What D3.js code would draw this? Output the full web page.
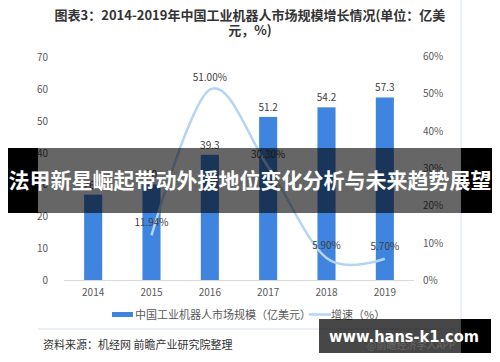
<!DOCTYPE html>
<html>
<head>
<meta charset="utf-8">
<script src="https://cdn.jsdelivr.net/npm/d3@7"></script>
<style>
  body { margin: 0; background: #fff; }
  svg { display: block; font-family: "Noto Sans CJK SC", "Microsoft YaHei", sans-serif; }
</style>
</head>
<body>
<svg id="chart" width="500" height="362"></svg>
<script>
var years = ["2014", "2015", "2016", "2017", "2018", "2019"];
var market_size = [26.8, 30, 39.3, 51.2, 54.2, 57.3];
var growth_years = ["2015", "2016", "2017", "2018", "2019"];
var growth_rate = [11.94, 51.00, 30.30, 5.90, 5.70];
var growth_labels = ["11.94%", "51.00%", "30.30%", "5.90%", "5.70%"];
var left_ticks = [0, 10, 20, 30, 40, 50, 60, 70];
var right_ticks = [0, 10, 20, 30, 40, 50, 60];

var svg = d3.select('#chart');

var x = d3.scaleBand().domain(years).range([64, 414]).paddingInner(0.69).paddingOuter(0.345);
var y = d3.scaleLinear().domain([0, 70]).range([280, 57]);
var y2 = d3.scaleLinear().domain([0, 60]).range([280, 56]);

// panel borders
svg.append('line').attr('x1', 461).attr('x2', 461).attr('y1', 0).attr('y2', 330)
  .attr('stroke', '#e6edf5').attr('stroke-width', 1.5);
svg.append('line').attr('x1', 38).attr('x2', 461).attr('y1', 329).attr('y2', 329)
  .attr('stroke', '#e6edf5').attr('stroke-width', 1.5);

// title
var title = svg.append('text').attr('text-anchor', 'middle').attr('font-weight', 'bold')
  .attr('font-size', 13).attr('fill', '#333');
title.append('tspan').attr('x', 250).attr('y', 20).text('图表3：2014-2019年中国工业机器人市场规模增长情况(单位：亿美');
title.append('tspan').attr('x', 250).attr('y', 35).text('元，%)');

// axes
svg.append('g').selectAll('text').data(left_ticks).enter().append('text')
  .attr('x', 48).attr('y', function (d) { return y(d) + 4; })
  .attr('text-anchor', 'end').attr('font-size', 10).attr('fill', '#595959')
  .text(function (d) { return d; });

svg.append('g').selectAll('text').data(right_ticks).enter().append('text')
  .attr('x', 423).attr('y', function (d) { return y2(d) + 4; })
  .attr('font-size', 10).attr('fill', '#595959')
  .text(function (d) { return d + '%'; });

svg.append('line').attr('x1', 64).attr('x2', 414).attr('y1', 280.5).attr('y2', 280.5)
  .attr('stroke', '#d9d9d9');

var x_axis = svg.append('g').attr('transform', 'translate(0,280)')
  .call(d3.axisBottom(x).tickSize(0).tickPadding(9));
x_axis.select('.domain').remove();
x_axis.selectAll('text').attr('font-size', 10).attr('fill', '#595959')
  .attr('font-family', '"Noto Sans CJK SC", sans-serif');

// bars
svg.append('g').selectAll('rect').data(market_size).enter().append('rect')
  .attr('x', function (d, i) { return x(years[i]); })
  .attr('y', function (d) { return y(d); })
  .attr('width', x.bandwidth())
  .attr('height', function (d) { return y(0) - y(d); })
  .attr('fill', '#3f85e0');

svg.append('g').selectAll('text').data(market_size).enter().append('text')
  .attr('x', function (d, i) { return x(years[i]) + x.bandwidth() / 2; })
  .attr('y', function (d) { return y(d) - 6; })
  .attr('text-anchor', 'middle').attr('font-size', 10).attr('fill', '#404040')
  .text(function (d) { return d; });

// growth line
var line = d3.line()
  .x(function (d, i) { return x(growth_years[i]) + x.bandwidth() / 2; })
  .y(function (d) { return y2(d); })
  .curve(d3.curveCardinal.tension(0));

svg.append('path').datum(growth_rate).attr('d', line)
  .attr('fill', 'none').attr('stroke', '#b5d4f7').attr('stroke-width', 2.5);

svg.append('g').selectAll('text').data(growth_rate).enter().append('text')
  .attr('x', function (d, i) { return x(growth_years[i]) + x.bandwidth() / 2; })
  .attr('y', function (d) { return y2(d) - 9; })
  .attr('text-anchor', 'middle').attr('font-size', 10).attr('fill', '#404040')
  .text(function (d, i) { return growth_labels[i]; });

// legend
svg.append('rect').attr('x', 112).attr('y', 312).attr('width', 21).attr('height', 5).attr('fill', '#3f85e0');
svg.append('text').attr('x', 135).attr('y', 318.5).attr('font-size', 11).attr('fill', '#595959')
  .text('中国工业机器人市场规模（亿美元）');
svg.append('line').attr('x1', 309).attr('x2', 331).attr('y1', 314.5).attr('y2', 314.5)
  .attr('stroke', '#b5d4f7').attr('stroke-width', 2.5);
svg.append('text').attr('x', 331).attr('y', 318.5).attr('font-size', 11).attr('fill', '#595959')
  .text('增速（%）');

// source
svg.append('text').attr('x', 43).attr('y', 349).attr('font-size', 11).attr('fill', '#333')
  .text('资料来源：机经网 前瞻产业研究院整理');

// banner overlay
svg.append('rect').attr('x', 8).attr('y', 148).attr('width', 484).attr('height', 65)
  .attr('fill', '#000').attr('fill-opacity', 0.6);
svg.append('rect').attr('x', 8).attr('y', 148).attr('width', 30).attr('height', 65).attr('fill', '#000');
svg.append('rect').attr('x', 461).attr('y', 148).attr('width', 31).attr('height', 65).attr('fill', '#000');
svg.append('text').attr('x', 250).attr('y', 188).attr('text-anchor', 'middle')
  .attr('font-size', 21).attr('font-weight', 'bold').attr('fill', '#fff')
  .text('法甲新星崛起带动外援地位变化分析与未来趋势展望');

// watermark box
svg.append('rect').attr('x', 319).attr('y', 319).attr('width', 172).attr('height', 34)
  .attr('fill', '#000').attr('fill-opacity', 0.72);
svg.append('rect').attr('x', 461).attr('y', 319).attr('width', 30).attr('height', 34).attr('fill', '#000');
svg.append('text').attr('x', 367).attr('y', 349).attr('font-size', 10).attr('fill', '#666')
  .text('@前瞻经济学人APP');
svg.append('text').attr('x', 329).attr('y', 342).attr('font-size', 16).attr('font-weight', 'bold')
  .attr('fill', '#fff').attr('font-family', '"DejaVu Sans", sans-serif')
  .attr('textLength', 150).attr('lengthAdjust', 'spacingAndGlyphs')
  .text('www.hans-k1.com');
</script>
</body>
</html>
